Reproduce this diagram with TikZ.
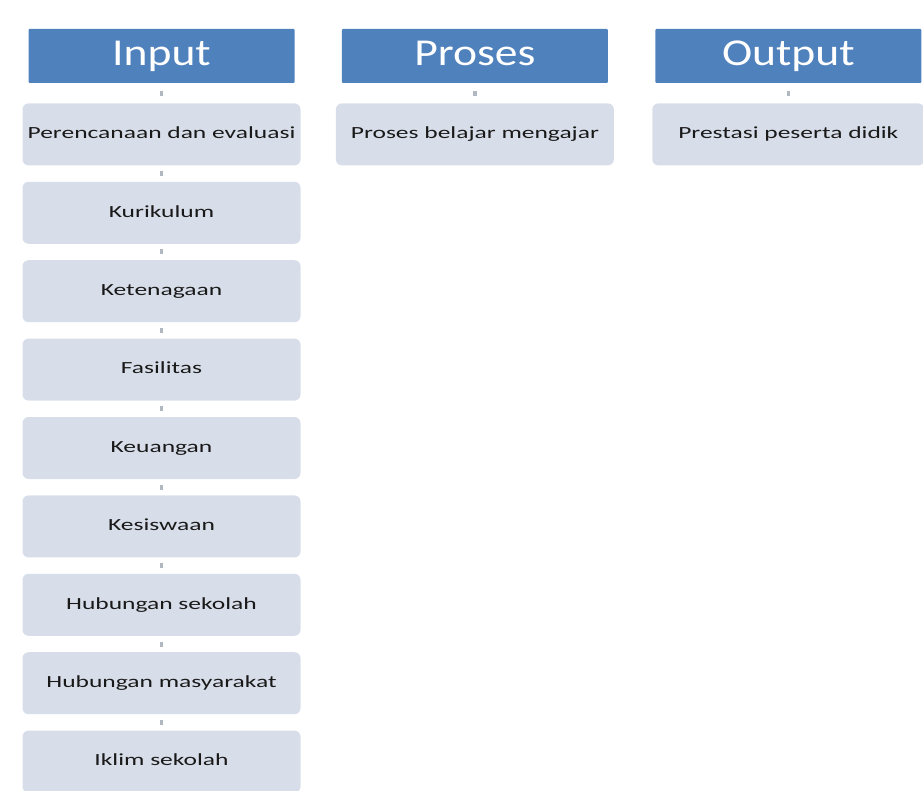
\documentclass[tikz,border=0pt]{standalone}
\usepackage{fontspec}
\newfontfamily\headfont[FakeStretch=1.2]{Carlito}
\newfontfamily\itemfont[FakeStretch=1.5]{Carlito}
\usetikzlibrary{positioning}
\definecolor{headblue}{RGB}{79,129,189}
\definecolor{itemgray}{RGB}{216,222,233}
\definecolor{dotgray}{RGB}{178,184,194}

\begin{document}
\begin{tikzpicture}[
  node distance=16pt and 47pt,
  headnode/.style={fill=headblue,rounded corners=1pt,minimum width=266pt,minimum height=54pt,inner sep=0pt,text height=26pt,text depth=7pt,text=white,font=\headfont\fontsize{38}{40}\selectfont},
  itemnode/.style={fill=itemgray,rounded corners=6pt,minimum width=278pt,minimum height=62pt,inner sep=0pt,text height=12pt,text depth=3.5pt,text=black!90,font=\itemfont\fontsize{17}{20}\selectfont},
  dotline/.style={draw=dotgray,line width=3.5pt,shorten <=5.5pt,shorten >=5.5pt},
  headdot/.style={dotline,shorten <=7.5pt,shorten >=7.5pt}]
\useasboundingbox (0,0) rectangle (923pt,-791pt);
\node[headnode] (in) at (161.5pt,-56pt) {Input};
\node[headnode, right=of in] (pro) {Proses};
\node[headnode, right=of pro] (out) {Output};

\node[itemnode, below=20pt of in] (rencana) {Perencanaan dan evaluasi};
\node[itemnode, below=of rencana] (kurikulum) {Kurikulum};
\node[itemnode, below=of kurikulum] (tenaga) {Ketenagaan};
\node[itemnode, below=of tenaga] (fasilitas) {Fasilitas};
\node[itemnode, below=of fasilitas] (uang) {Keuangan};
\node[itemnode, below=of uang] (siswa) {Kesiswaan};
\node[itemnode, below=of siswa] (hubsek) {Hubungan sekolah};
\node[itemnode, below=of hubsek] (hubmas) {Hubungan masyarakat};
\node[itemnode, below=of hubmas] (iklim) {Iklim sekolah};

\node[itemnode, below=20pt of pro] (pbm) {Proses belajar mengajar};
\node[itemnode, minimum width=272pt, below=20pt of out] (prestasi) {Prestasi peserta didik};

\foreach \a/\b in {in/rencana, pro/pbm, out/prestasi}
  \draw[headdot] (\a) -- (\b);
\foreach \a/\b in {rencana/kurikulum, kurikulum/tenaga, tenaga/fasilitas,
    fasilitas/uang, uang/siswa, siswa/hubsek, hubsek/hubmas, hubmas/iklim}
  \draw[dotline] (\a) -- (\b);
\end{tikzpicture}
\end{document}
